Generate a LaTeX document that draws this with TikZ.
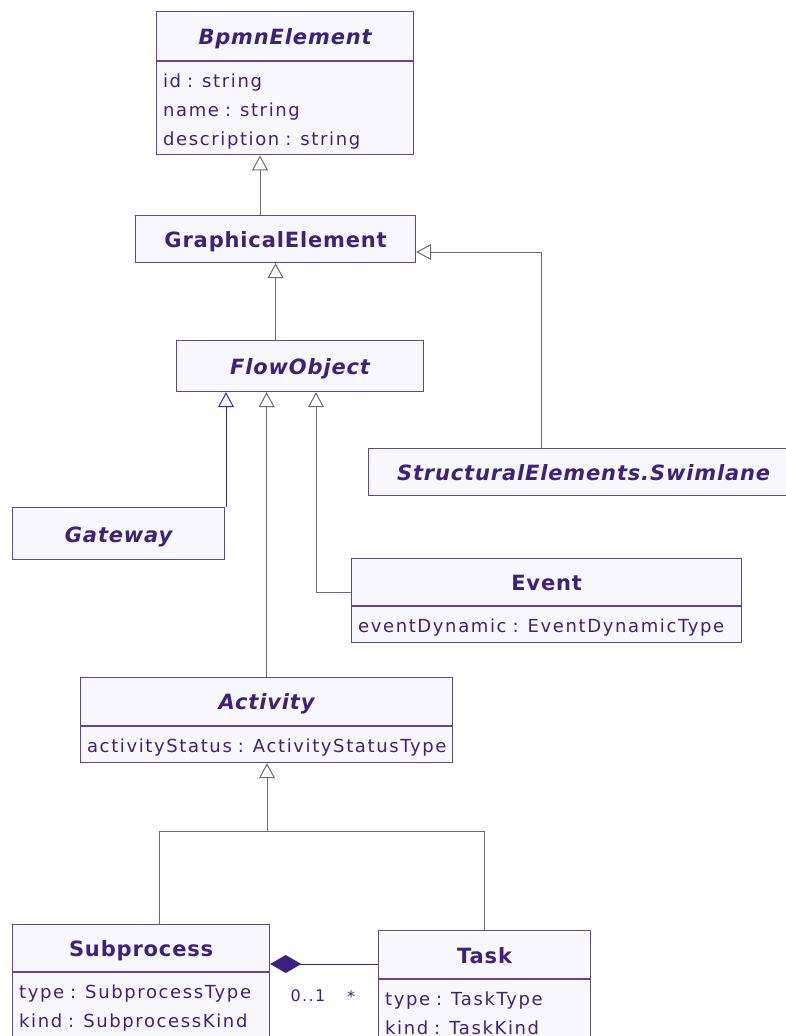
\documentclass[tikz,border=0pt]{standalone}
\usepackage{fontspec}
\usepackage{tikz}
\usetikzlibrary{arrows.meta, positioning}
\newfontfamily\headfont{DejaVu Sans}[LetterSpace=4]
\newfontfamily\attrfont{DejaVu Sans}[LetterSpace=9]
\newcommand\attrsize{\attrfont\fontsize{18}{29}\selectfont\spaceskip 8.5pt plus 1pt\relax}
\definecolor{umlink}{HTML}{3D2181}
\definecolor{umlborder}{HTML}{5E43A2}
\definecolor{umlfill}{HTML}{F7F7FD}
\definecolor{genline}{HTML}{6A6A6A}
\definecolor{genblue}{HTML}{2222FF}

\begin{document}
\begin{tikzpicture}[x=1pt, y=-1pt,
    cls/.style={draw=umlborder, fill=umlfill, line width=1.2pt, anchor=north west,
                inner sep=0pt, text=umlink, text height=17pt, text depth=0pt,
                font=\headfont\fontsize{21}{24}\selectfont\bfseries},
    abstract/.style={cls, font=\headfont\fontsize{21}{24}\selectfont\bfseries\itshape},
    % #1 = depth below the first baseline
    attrs/.style={draw=umlborder, fill=umlfill, line width=1.2pt, anchor=north west,
                  inner xsep=6.5pt, inner ysep=0pt, align=left, text=umlink,
                  text height=26pt, text depth=#1, font=\attrsize},
    attrs/.default=10pt,
    gen/.style={-{Triangle[open, length=15pt, width=16pt]}, line width=1pt, draw=#1},
    gen/.default=genline,
    comp/.style={{Diamond[length=31pt, width=18pt]}-, line width=1pt, draw=umlink},
    mult/.style={text=umlink, font=\attrfont\fontsize{16}{18}\selectfont},
]
    \useasboundingbox (0,0) rectangle (785,1036);

    % Classes
    \node[abstract, minimum width=257, minimum height=49] (bpmn) at (156,11) {BpmnElement};
    \node[attrs=67pt, text width=244] (bpmnAttr) at (bpmn.south west)
        {id : string\\name : string\\description : string};
    \node[cls, minimum width=280, minimum height=47] (graph) at (135,215) {GraphicalElement};
    \node[abstract, minimum width=247, minimum height=51] (flow) at (176,340) {FlowObject};
    \node[abstract, minimum width=430, minimum height=47] (swim) at (368,448) {StructuralElements.Swimlane};
    \node[abstract, minimum width=212, minimum height=52] (gate) at (12,507) {Gateway};
    \node[cls, minimum width=390, minimum height=47] (event) at (351,558) {Event};
    \node[attrs, text width=377] (eventAttr) at (event.south west)
        {eventDynamic : EventDynamicType};
    \node[attrs, text width=359] (actAttr) at (80,726)
        {activityStatus : ActivityStatusType};
    \node[abstract, minimum width=372, minimum height=48, anchor=south west] (act) at (actAttr.north west) {Activity};
    \node[cls, minimum width=257, minimum height=47] (sub) at (12,924) {Subprocess};
    \node[attrs=45pt, text width=244] (subAttr) at (sub.south west)
        {type : SubprocessType\\kind : SubprocessKind};
    \node[cls, minimum width=212, minimum height=48] (task) at (378,930) {Task};
    \node[attrs=45pt, text width=199] (taskAttr) at (task.south west)
        {type : TaskType\\kind : TaskKind};

    % Generalisations
    \draw[gen] (graph.north -| 260,0) -- (bpmnAttr.south -| 260,0);
    \draw[gen] (flow.north -| graph.south) -- (graph.south);
    \draw[gen] (swim.north -| 541,0) |- (graph.east |- 0,252);
    \draw[gen=genblue] (gate.north -| 226,0) -- (flow.south -| 226,0);
    \draw[gen] (act.north) -- (act.north |- flow.south);
    \draw[gen] (event.west |- 0,592) -| (flow.south -| 316,0);
    \coordinate (split) at (267,831);
    \draw[gen] (sub.north -| 159,0) |- (split) -- (split |- actAttr.south);
    \draw[draw=genline, line width=1pt] (task.north) |- (split);

    % Composition
    \draw[comp] (sub.east |- 0,964) -- (task.west |- 0,964);
    \node[mult] (multSub) at (308,996) {0..1};
    \node[mult] (multTask) at (351,997) {*};
\end{tikzpicture}
\end{document}
